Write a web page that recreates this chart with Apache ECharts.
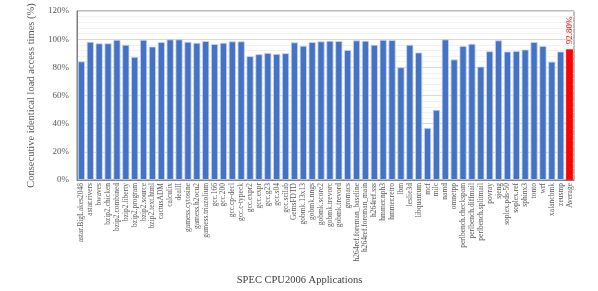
<!DOCTYPE html>
<html>
<head>
<meta charset="utf-8">
<script src="https://cdn.jsdelivr.net/npm/echarts@6/dist/echarts.min.js"></script>
<style>html,body{margin:0;padding:0;background:#fff}#c{width:598px;height:291px}</style>
</head>
<body>
<div id="c"></div>
<script>
var categories = ["astar.BigLakes2048","astar.rivers","bwaves","bzip2.chicken","bzip2.combined","bzip2.liberty","bzip2.program","bzip2.source","bzip2.text.html","cactusADM","calculix","dealII","gamess.cytosine","gamess.h2ocu2","gamess.triazolium","gcc.166","gcc.200","gcc.cp-decl","gcc.c-typeck","gcc.expr2","gcc.expr","gcc.g23","gcc.s04","gcc.scilab","GemsFDTD","gobmk.13x13","gobmk.nngs","gobmk.score2","gobmk.trevorc","gobmk.trevord","gromacs","h264ref.foreman_baseline","h264ref.foreman_main","h264ref.sss","hmmer.nph3","hmmer.retro","lbm","leslie3d","libquantum","mcf","milc","namd","omnetpp","perlbench.checkspam","perlbench.diffmail","perlbench.splitmail","povray","sjeng","soplex.pds-50","soplex.ref","sphinx3","tonto","wrf","xalancbmk","zeusmp","Average"];
var values = [84.2,98.1,97.0,97.0,99.5,96.0,87.4,99.5,94.7,97.9,99.8,99.8,98.1,97.4,98.6,96.5,97.4,98.4,98.4,87.9,89.3,90.2,89.5,90.0,97.7,95.3,97.9,98.4,98.8,98.6,92.3,99.1,98.8,96.0,99.5,99.3,80.0,96.0,90.5,37.0,49.8,99.8,85.6,95.1,96.7,80.5,91.4,99.1,91.2,91.6,92.6,97.9,95.1,84.0,91.2,92.8];
var averageLabel = "92.80%";
var yTicks = {min: 0, max: 120, interval: 20};
var yTitle = "Consecutive identical load access times (%)";
var xTitle = "SPEC CPU2006 Applications";

var serif = "Liberation Serif";
var chart = echarts.init(document.getElementById('c'));
var data = values.map(function (v, i) {
  if (categories[i] === 'Average') {
    return {
      value: v,
      itemStyle: {color: '#ff0000', borderColor: '#ff0000'},
      label: {
        show: true, position: 'top', rotate: 90, align: 'left', verticalAlign: 'middle',
        distance: 5, formatter: averageLabel, color: '#ff0000', fontFamily: serif, fontSize: 9
      }
    };
  }
  return v;
});
chart.setOption({
  animation: false,
  grid: {left: 77, right: 24, top: 11, bottom: 108, show: true, borderColor: '#7f7f7f', borderWidth: 1},
  xAxis: {
    type: 'category', data: categories,
    name: xTitle, nameLocation: 'middle', nameGap: 95,
    nameTextStyle: {fontFamily: serif, fontSize: 10.5, color: '#404040', padding: [0, 52, 0, 0]},
    axisLine: {lineStyle: {color: '#7f7f7f'}},
    axisTick: {show: false},
    axisLabel: {interval: 0, rotate: 90, fontFamily: serif, fontSize: 7.5, color: '#595959', margin: 3}
  },
  yAxis: {
    type: 'value', min: yTicks.min, max: yTicks.max, interval: yTicks.interval,
    name: yTitle, nameLocation: 'middle', nameGap: 28,
    nameTextStyle: {fontFamily: serif, fontSize: 10.5, color: '#595959'},
    axisLine: {show: true, lineStyle: {color: '#7f7f7f'}},
    axisTick: {show: false},
    axisLabel: {formatter: '{value}%', fontFamily: serif, fontSize: 9, color: '#595959', margin: 8},
    splitLine: {lineStyle: {color: '#d9d9d9'}},
    minorTick: {show: false, splitNumber: 5},
    minorSplitLine: {show: true, lineStyle: {color: '#f2f2f2'}}
  },
  series: [{
    type: 'bar', data: data, barCategoryGap: '20%',
    itemStyle: {color: '#4472c4', borderColor: '#c9d6ef', borderWidth: 0.8}
  }]
});
</script>
</body>
</html>
